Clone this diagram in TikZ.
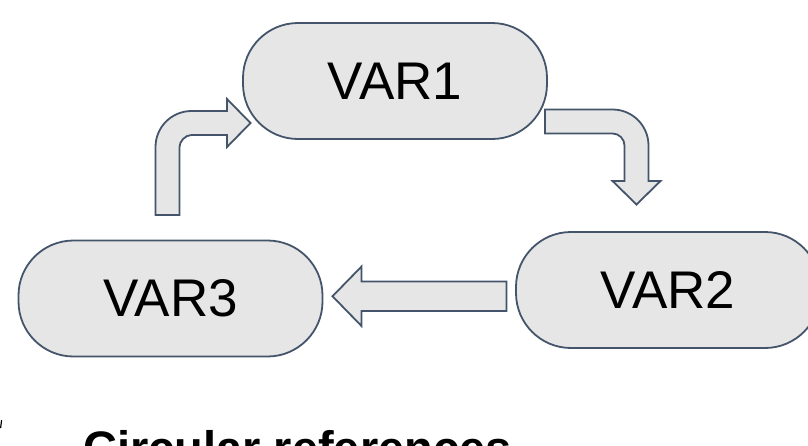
\documentclass[tikz,border=0pt]{standalone}
\usepackage{fontspec}
\setmainfont{Liberation Sans}
\definecolor{pillfill}{HTML}{E6E6E6}
\definecolor{pilldraw}{HTML}{44546A}
\begin{document}
\begin{tikzpicture}[x=1pt,y=-1pt,
  pill/.style={draw=pilldraw, fill=pillfill, line width=1.8pt, rounded corners=55pt,
    minimum width=304pt, minimum height=116pt, inner sep=0pt,
    font=\fontsize{53}{53}\selectfont},
  blockarrow/.style={draw=pilldraw, fill=pillfill, line width=1.8pt, line join=miter}]
\useasboundingbox (0,0) rectangle (808,445);
\clip (0,0) rectangle (808,445);
\node[pill] (v1) at (395,81) {VAR1};
\node[pill] (v2) at (668,290) {VAR2};
\node[pill] (v3) at (170.5,298.5) {VAR3};
% VAR3 -> VAR1 (up then right)
\draw[blockarrow] (155.5,215) -- (155.5,147) .. controls (155.5,127.1) and (171.6,111) .. (191.5,111)
  -- (227,111) -- (227,99) -- (250.5,123) -- (227,147) -- (227,135) -- (191.5,135)
  .. controls (184.9,135) and (179.5,141.6) .. (179.5,147) -- (179.5,215) -- cycle;
% VAR1 -> VAR2 (right then down)
\draw[blockarrow] (545,109.5) -- (612.5,109.5) .. controls (632.4,109.5) and (648.5,125.6) .. (648.5,145.5)
  -- (648.5,181) -- (660.5,181) -- (636.5,204.5) -- (612.5,181) -- (624.5,181) -- (624.5,145.5)
  .. controls (624.5,138.9) and (619.1,133.5) .. (612.5,133.5) -- (545,133.5) -- cycle;
% VAR2 -> VAR3 (left)
\draw[blockarrow] (506.5,281.5) -- (361.5,281.5) -- (361.5,266.5) -- (332.5,296.25)
  -- (361.5,326) -- (361.5,311) -- (506.5,311) -- cycle;
% caption
\node[anchor=base west, inner sep=0pt, font=\bfseries\fontsize{47}{47}\selectfont] (cap) at (83,464) {Circular references};
% small mark at left edge
\fill[black] (0,428) -- (1,420) -- (2.2,420) -- (1.2,428) -- cycle;
\end{tikzpicture}
\end{document}
